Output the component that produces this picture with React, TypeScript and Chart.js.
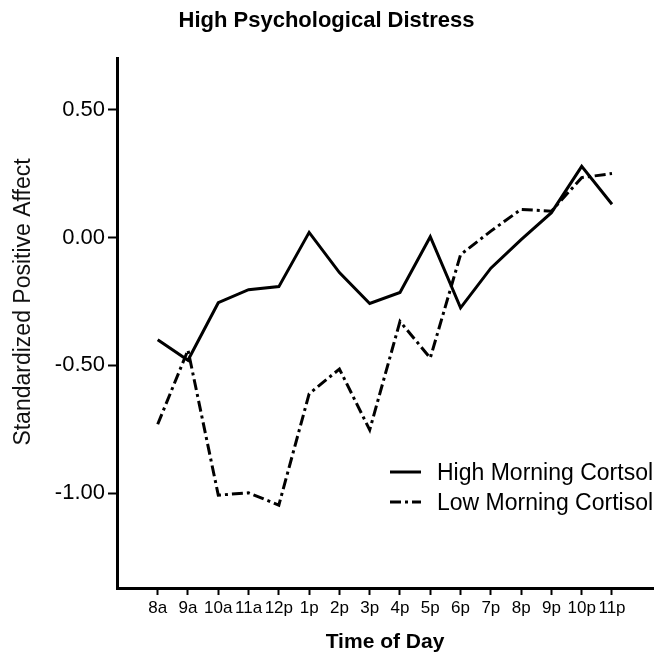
import { useEffect, useRef } from "react";
import { Chart, registerables } from "chart.js";

Chart.register(...registerables);

// Hour of day for each measurement
const timeLabels = ["8a", "9a", "10a", "11a", "12p", "1p", "2p", "3p", "4p", "5p", "6p", "7p", "8p", "9p", "10p", "11p"];

// Standardized positive affect, high morning cortisol group
const highCortisol = [-0.40, -0.48, -0.255, -0.204, -0.192, 0.02, -0.137, -0.258, -0.215, 0.003, -0.275, -0.12, -0.008, 0.097, 0.278, 0.13];

// Standardized positive affect, low morning cortisol group
const lowCortisol = [-0.73, -0.44, -1.007, -0.998, -1.046, -0.611, -0.514, -0.752, -0.328, -0.471, -0.067, 0.025, 0.11, 0.103, 0.234, 0.25];

const yTickValues = [0.5, 0.0, -0.5, -1.0];

const seriesNames = ["High Morning Cortsol", "Low Morning Cortisol"];

const FONT = "'Liberation Sans', Arial, sans-serif";
const DASH_DOT = [11, 4, 3, 4];

const extrasPlugin = {
  id: "extras",
  afterDraw(chart: any) {
    const ctx = chart.ctx;
    ctx.save();

    // vertical axis title
    ctx.fillStyle = "#111";
    ctx.font = `23px ${FONT}`;
    ctx.textAlign = "center";
    ctx.textBaseline = "middle";
    ctx.translate(24, 302);
    ctx.rotate(-Math.PI / 2);
    ctx.fillText("Standardized Positive Affect", 0, 0);
    ctx.restore();

    // legend inside the plot
    ctx.save();
    const rows = [472, 502];
    chart.data.datasets.forEach((ds: any, i: number) => {
      const y = rows[i];
      ctx.strokeStyle = ds.borderColor;
      ctx.lineWidth = ds.borderWidth;
      ctx.lineCap = "butt";
      ctx.setLineDash(ds.borderDash || []);
      ctx.beginPath();
      ctx.moveTo(390, y);
      ctx.lineTo(421, y);
      ctx.stroke();
      ctx.setLineDash([]);
      ctx.fillStyle = "#000";
      ctx.font = `23px ${FONT}`;
      ctx.textAlign = "left";
      ctx.textBaseline = "middle";
      ctx.fillText(ds.label, 437, y + 2);
    });
    ctx.restore();
  },
};

export default function App() {
  const canvasRef = useRef<HTMLCanvasElement | null>(null);

  useEffect(() => {
    const canvas = canvasRef.current;
    if (!canvas) return;

    const toPoints = (vals: number[]) => vals.map((v, i) => ({ x: i, y: v }));

    const chart = new Chart(canvas, {
      type: "line",
      data: {
        datasets: [
          {
            label: seriesNames[0],
            data: toPoints(highCortisol),
            borderColor: "#000",
            borderWidth: 3,
            borderCapStyle: "butt",
            borderJoinStyle: "miter",
            pointRadius: 0,
            tension: 0,
            fill: false,
          },
          {
            label: seriesNames[1],
            data: toPoints(lowCortisol),
            borderColor: "#000",
            borderWidth: 3,
            borderDash: DASH_DOT,
            borderCapStyle: "butt",
            borderJoinStyle: "miter",
            pointRadius: 0,
            tension: 0,
            fill: false,
          },
        ],
      },
      options: {
        responsive: false,
        animation: false,
        layout: { padding: { left: 0, right: 2, top: 0, bottom: 0 } },
        plugins: {
          legend: { display: false },
          tooltip: { enabled: false },
          title: {
            display: true,
            text: "High Psychological Distress",
            color: "#000",
            font: { family: FONT, size: 22, weight: "bold" },
            padding: { top: 8, bottom: 24 },
          },
        },
        scales: {
          x: {
            type: "linear",
            min: -1.344,
            max: 16.354,
            afterBuildTicks: (scale: any) => {
              scale.ticks = timeLabels.map((_, i) => ({ value: i }));
            },
            afterFit: (scale: any) => {
              scale.height = 73;
            },
            ticks: {
              autoSkip: false,
              maxRotation: 0,
              color: "#000",
              padding: 3,
              font: { family: FONT, size: 17 },
              callback: (v: any) => timeLabels[Math.round(Number(v))] ?? "",
            },
            grid: {
              drawOnChartArea: false,
              drawTicks: true,
              tickLength: 7,
              tickWidth: 2,
              tickColor: "#000",
            },
            border: { display: true, color: "#000", width: 3 },
            title: {
              display: true,
              text: "Time of Day",
              color: "#000",
              font: { family: FONT, size: 21, weight: "bold" },
              padding: { top: 4, bottom: 6 },
            },
          },
          y: {
            type: "linear",
            min: -1.37,
            max: 0.7,
            afterBuildTicks: (scale: any) => {
              scale.ticks = yTickValues.map((v) => ({ value: v }));
            },
            afterFit: (scale: any) => {
              scale.width = 117;
            },
            ticks: {
              color: "#000",
              padding: 3,
              font: { family: FONT, size: 22 },
              callback: (v: any) => Number(v).toFixed(2),
            },
            grid: {
              drawOnChartArea: false,
              drawTicks: true,
              tickLength: 9,
              tickWidth: 2,
              tickColor: "#000",
            },
            border: { display: true, color: "#000", width: 3 },
          },
        },
      },
      plugins: [extrasPlugin],
    } as any);

    return () => chart.destroy();
  }, []);

  return (
    <div style={{ position: "absolute", left: 0, top: 0, width: 655, height: 661, background: "#fff" }}>
      <canvas ref={canvasRef} width={655} height={661} style={{ display: "block" }} />
    </div>
  );
}
